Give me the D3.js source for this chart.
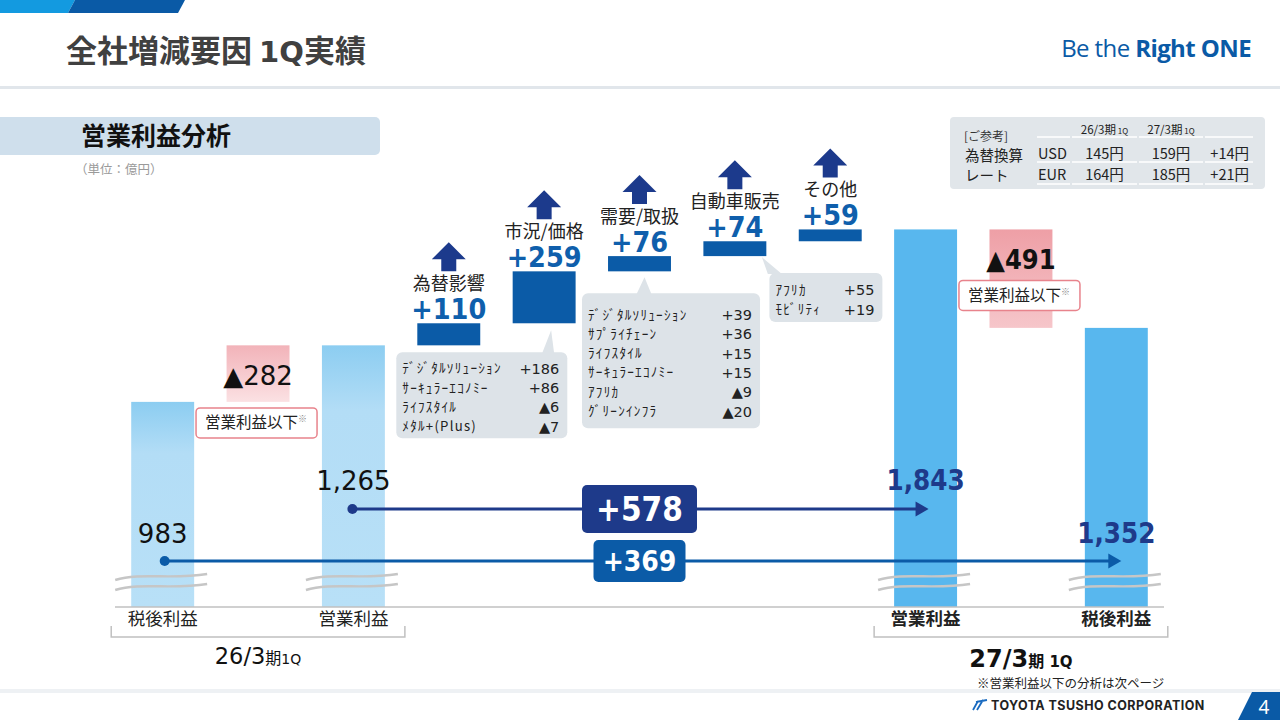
<!DOCTYPE html>
<html>
<head>
<meta charset="utf-8">
<script src="https://cdn.jsdelivr.net/npm/d3@7"></script>
<style>
  body { margin: 0; background: #fff; }
  svg { display: block; }
</style>
</head>
<body>
<svg id="canvas" width="1280" height="720"></svg>
<script>
// Chart values (億円)
let periods = ['26/3', '27/3'];
let startNames = ['税後利益', '営業利益'];
let startValues = [983, 1265];
let factorNames = ['為替影響', '市況/価格', '需要/取扱', '自動車販売', 'その他'];
let factorValues = [110, 259, 76, 74, 59];
let endNames = ['営業利益', '税後利益'];
let endValues = [1843, 1352];
let belowLabel = '営業利益以下';

// Breakdowns shown in the grey callouts
let marketItems = ['ﾃﾞｼﾞﾀﾙｿﾘｭｰｼｮﾝ', 'ｻｰｷｭﾗｰｴｺﾉﾐｰ', 'ﾗｲﾌｽﾀｲﾙ', 'ﾒﾀﾙ+(Plus)'];
let marketValues = [186, 86, -6, -7];
let demandItems = ['ﾃﾞｼﾞﾀﾙｿﾘｭｰｼｮﾝ', 'ｻﾌﾟﾗｲﾁｪｰﾝ', 'ﾗｲﾌｽﾀｲﾙ', 'ｻｰｷｭﾗｰｴｺﾉﾐｰ', 'ｱﾌﾘｶ', 'ｸﾞﾘｰﾝｲﾝﾌﾗ'];
let demandValues = [39, 36, 15, 15, -9, -20];
let autoItems = ['ｱﾌﾘｶ', 'ﾓﾋﾞﾘﾃｨ'];
let autoValues = [55, 19];

// Reference exchange rates
let fxHeaders = ['26/3期', '27/3期'];
let fxCurrencies = ['USD', 'EUR'];
let fxPrev = [145, 164];
let fxCurr = [159, 185];

// Fonts
let JP = '"Noto Sans CJK JP", sans-serif';
let NUM = '"DejaVu Sans", sans-serif';
let NUMB = '"DejaVu Sans Condensed", "DejaVu Sans", sans-serif';

let svg = d3.select('#canvas');
let fmtDiff = (v) => (v < 0 ? '▲' : '+') + Math.abs(v);
let fmtTotal = d3.format(',');

// Gradients
let defs = svg.append('defs');
let addGrad = (id, stops) => {
    let g = defs.append('linearGradient').attr('id', id)
        .attr('x1', 0).attr('y1', 0).attr('x2', 0).attr('y2', 1);
    stops.forEach((s) => g.append('stop').attr('offset', s[0]).attr('stop-color', s[1]));
};
addGrad('gradPrev', [[0, '#8ccdf1'], [0.25, '#b3ddf6'], [1, '#b8e0f7']]);
addGrad('gradPink1', [[0, '#f2b3b9'], [1, '#fbe1e3']]);
addGrad('gradPink2', [[0, '#ee9fa6'], [1, '#f6c6ca']]);

// ---------- Header ----------
svg.append('polygon').attr('points', '0,0 75,0 68,13 0,13').attr('fill', '#139ae0');
svg.append('polygon').attr('points', '75,0 185,0 178,13 68,13').attr('fill', '#0a5aa6');
let title = svg.append('text').attr('x', 66).attr('y', 62)
    .attr('font-weight', 700).attr('font-size', 31).attr('fill', '#404040');
title.append('tspan').attr('font-family', JP).text('全社増減要因 ');
title.append('tspan').attr('font-family', NUM).attr('font-size', 29).text('1Q');
title.append('tspan').attr('font-family', JP).text('実績');
svg.append('rect').attr('x', 0).attr('y', 86).attr('width', 1280).attr('height', 3).attr('fill', '#e1e6eb');

let brand = svg.append('text').attr('x', 1251).attr('y', 57).attr('text-anchor', 'end')
    .attr('font-family', '"Open Sans", sans-serif').attr('font-size', 24)
    .attr('letter-spacing', -0.6).attr('fill', '#0a5aa6');
brand.append('tspan').attr('font-weight', 400).text('Be the ');
brand.append('tspan').attr('font-weight', 700).text('Right ONE');

svg.append('rect').attr('x', -8).attr('y', 117).attr('width', 388).attr('height', 38).attr('rx', 5)
    .attr('fill', '#cfdfec');
svg.append('text').attr('x', 81).attr('y', 145)
    .attr('font-family', JP).attr('font-weight', 700).attr('font-size', 25)
    .attr('fill', '#111').text('営業利益分析');
svg.append('text').attr('x', 75).attr('y', 174)
    .attr('font-family', JP).attr('font-size', 12.5).attr('fill', '#9a9a9a').text('（単位：億円）');

// ---------- FX reference table ----------
let fx = svg.append('g');
fx.append('rect').attr('x', 950).attr('y', 117).attr('width', 315).attr('height', 72).attr('rx', 4)
    .attr('fill', '#e1e6ea');
fx.append('text').attr('x', 964).attr('y', 141).attr('font-family', JP).attr('font-size', 12)
    .attr('fill', '#333').text('[ご参考]');
fx.append('text').attr('x', 965).attr('y', 161).attr('font-family', JP).attr('font-size', 14.5)
    .attr('fill', '#222').text('為替換算');
fx.append('text').attr('x', 965).attr('y', 181).attr('font-family', JP).attr('font-size', 14.5)
    .attr('fill', '#222').text('レート');
let fxCols = [[1037, 1070], [1072, 1137], [1139, 1203], [1205, 1253]];
[137, 162, 184].forEach((ly) => {
    fxCols.forEach((c) => {
        fx.append('line').attr('x1', c[0]).attr('x2', c[1]).attr('y1', ly).attr('y2', ly)
            .attr('stroke', '#fff').attr('stroke-width', 1.5);
    });
});
fxHeaders.forEach((h, i) => {
    let c = fxCols[i + 1];
    let t = fx.append('text').attr('x', (c[0] + c[1]) / 2).attr('y', 134).attr('text-anchor', 'middle')
        .attr('font-family', JP).attr('font-size', 11.5).attr('fill', '#222');
    t.append('tspan').text(h);
    t.append('tspan').attr('font-size', 8).text(' 1Q');
});
fxCurrencies.forEach((cur, i) => {
    let ry = 158.5 + i * 21;
    fx.append('text').attr('x', 1038).attr('y', ry).attr('font-family', JP).attr('font-size', 14.5)
        .attr('fill', '#222').text(cur);
    fx.append('text').attr('x', (fxCols[1][0] + fxCols[1][1]) / 2).attr('y', ry).attr('text-anchor', 'middle')
        .attr('font-family', JP).attr('font-size', 14.5).attr('fill', '#222').text(fxPrev[i] + '円');
    fx.append('text').attr('x', (fxCols[2][0] + fxCols[2][1]) / 2).attr('y', ry).attr('text-anchor', 'middle')
        .attr('font-family', JP).attr('font-size', 14.5).attr('fill', '#222').text(fxCurr[i] + '円');
    fx.append('text').attr('x', 1249).attr('y', ry).attr('text-anchor', 'end')
        .attr('font-family', JP).attr('font-size', 14.5).attr('fill', '#222')
        .text(fmtDiff(fxCurr[i] - fxPrev[i]) + '円');
});

// ---------- Scales ----------
let keys = ['s0', 'd0', 's1', 'f0', 'f1', 'f2', 'f3', 'f4', 'e0', 'd1', 'e1'];
let x = d3.scaleBand().domain(keys).range([115, 1164]).paddingInner(0.34).paddingOuter(0.17);
let y = d3.scaleLinear().domain([0, 1900]).range([599, 218]);
let baseY = 607;
let bw = x.bandwidth();
let cx = (k) => x(k) + bw / 2;

let totals = [
    { key: 's0', name: startNames[0], value: startValues[0], side: 0 },
    { key: 's1', name: startNames[1], value: startValues[1], side: 0 },
    { key: 'e0', name: endNames[0], value: endValues[0], side: 1 },
    { key: 'e1', name: endNames[1], value: endValues[1], side: 1 }
];

let cum = startValues[1];
let steps = factorValues.map((v, i) => {
    let s = { key: 'f' + i, name: factorNames[i], value: v, from: cum, to: cum + v };
    cum += v;
    return s;
});

let gaps = [
    { key: 'd0', lo: startValues[0], hi: startValues[1], grad: 'gradPink1', bold: false },
    { key: 'd1', lo: endValues[1], hi: endValues[0], grad: 'gradPink2', bold: true }
];

let chart = svg.append('g');

// Total bars
chart.selectAll('rect.total')
    .data(totals)
    .enter()
    .append('rect')
    .attr('class', 'total')
    .attr('x', (d) => x(d.key))
    .attr('y', (d) => y(d.value))
    .attr('width', bw)
    .attr('height', (d) => baseY - y(d.value))
    .attr('fill', (d) => d.side === 0 ? 'url(#gradPrev)' : '#58b7ee');

// Pink "below operating profit" bars
chart.selectAll('rect.gap')
    .data(gaps)
    .enter()
    .append('rect')
    .attr('class', 'gap')
    .attr('x', (d) => x(d.key))
    .attr('y', (d) => y(d.hi))
    .attr('width', bw)
    .attr('height', (d) => y(d.lo) - y(d.hi))
    .attr('fill', (d) => 'url(#' + d.grad + ')');

// Factor bars
chart.selectAll('rect.step')
    .data(steps)
    .enter()
    .append('rect')
    .attr('class', 'step')
    .attr('x', (d) => x(d.key))
    .attr('y', (d) => y(d.to))
    .attr('width', bw)
    .attr('height', (d) => y(d.from) - y(d.to))
    .attr('fill', '#0b5ba7');

// Axis break marks (two grey waves across each total bar)
let wave = (x0, x1, yc) => {
    let w = x1 - x0;
    return 'M' + x0 + ',' + (yc + 3) + ' C' + (x0 + w * 0.28) + ',' + (yc - 5) + ' ' +
        (x0 + w * 0.6) + ',' + (yc + 3) + ' ' + x1 + ',' + (yc - 3);
};
totals.forEach((d) => {
    let x0 = x(d.key) - 16;
    let x1 = x(d.key) + bw + 13;
    [577, 587].forEach((yc) => {
        chart.append('path').attr('d', wave(x0, x1, yc)).attr('fill', 'none')
            .attr('stroke', '#c6c6c6').attr('stroke-width', 2.4);
    });
});

// Baseline
chart.append('line').attr('x1', 115).attr('x2', 1164).attr('y1', baseY).attr('y2', baseY)
    .attr('stroke', '#c0c0c0').attr('stroke-width', 1.5);

// Category labels
chart.selectAll('text.cat')
    .data(totals)
    .enter()
    .append('text')
    .attr('class', 'cat')
    .attr('x', (d) => cx(d.key))
    .attr('y', 625)
    .attr('text-anchor', 'middle')
    .attr('font-family', JP)
    .attr('font-size', 17.5)
    .attr('font-weight', (d) => d.side === 1 ? 700 : 400)
    .attr('fill', '#222')
    .text((d) => d.name);

// Period brackets
[['s0', 's1'], ['e0', 'e1']].forEach((pair, i) => {
    let bl = x(pair[0]) - 20;
    let br = x(pair[1]) + bw + 20;
    chart.append('path')
        .attr('d', 'M' + bl + ',626 V637 H' + br + ' V626')
        .attr('fill', 'none').attr('stroke', '#c0c0c0').attr('stroke-width', 1.5);
    let t = chart.append('text').attr('x', (bl + br) / 2).attr('y', i === 0 ? 664 : 667)
        .attr('text-anchor', 'middle').attr('fill', '#111')
        .attr('font-weight', i === 0 ? 400 : 700);
    t.append('tspan').attr('font-family', NUM).attr('font-size', i === 0 ? 22.5 : 24).text(periods[i]);
    t.append('tspan').attr('font-family', JP).attr('font-size', 16).text('期');
    t.append('tspan').attr('font-family', NUM).attr('font-size', i === 0 ? 14 : 15).text(i === 0 ? '1Q' : ' 1Q');
});

// Factor arrows, names and values
let arrowPath = (c, yt, yb) => {
    let hw = 17, sw = 7.5, hh = 17;
    return 'M' + (c - sw) + ',' + yb + ' L' + (c - sw) + ',' + (yt + hh) + ' L' + (c - hw) + ',' + (yt + hh) +
        ' L' + c + ',' + yt + ' L' + (c + hw) + ',' + (yt + hh) + ' L' + (c + sw) + ',' + (yt + hh) +
        ' L' + (c + sw) + ',' + yb + ' Z';
};
steps.forEach((d) => {
    let top = y(d.to);
    chart.append('path').attr('d', arrowPath(cx(d.key), top - 81, top - 52)).attr('fill', '#1c3a8c');
    chart.append('text').attr('x', cx(d.key)).attr('y', top - 33).attr('text-anchor', 'middle')
        .attr('font-family', JP).attr('font-size', 18).attr('fill', '#222').text(d.name);
    chart.append('text').attr('x', cx(d.key)).attr('y', top - 4).attr('text-anchor', 'middle')
        .attr('font-family', NUMB).attr('font-weight', 700).attr('font-size', 28.5)
        .attr('fill', '#0f5fac').text(fmtDiff(d.value));
});

// Grey breakdown callouts
let callouts = [
    { step: steps[1], items: marketItems, values: marketValues, left: x('f0') - 21, width: 171, height: 86,
        topOff: 29, tipDx: 7, tipDy: 7, base: [-9, 3] },
    { step: steps[2], items: demandItems, values: demandValues, left: x('f2') - 26, width: 178, height: 135,
        topOff: 22, tipDx: 5, tipDy: 6, base: [-8, 7] },
    { step: steps[3], items: autoItems, values: autoValues, left: x('f3') + 66, width: 113, height: 49,
        topOff: 17, tipDx: 27, tipDy: 1, base: [6, 20] }
];
callouts.forEach((c) => {
    let bottom = y(c.step.from);
    let top = bottom + c.topOff;
    let tipX = cx(c.step.key) + c.tipDx;
    let g = chart.append('g');
    g.append('rect').attr('x', c.left).attr('y', top).attr('width', c.width).attr('height', c.height)
        .attr('rx', 6).attr('fill', '#dde3e8');
    g.append('polygon')
        .attr('points', (tipX + c.base[0]) + ',' + (top + 1) + ' ' + tipX + ',' + (bottom + c.tipDy) + ' ' +
            (tipX + c.base[1]) + ',' + (top + 1))
        .attr('fill', '#dde3e8');
    let rowH = 19.3;
    let firstY = top + c.height / 2 + 2 - (c.items.length - 1) * rowH / 2;
    c.items.forEach((name, i) => {
        let ry = firstY + i * rowH;
        g.append('text').attr('x', c.left + 6).attr('y', ry + 5)
            .attr('font-family', JP).attr('font-size', 13.2).attr('letter-spacing', 1.25)
            .attr('fill', '#222').text(name);
        g.append('text').attr('x', c.left + c.width - 8).attr('y', ry + 5.5).attr('text-anchor', 'end')
            .attr('font-family', NUM).attr('font-size', 14.5).attr('fill', '#222').text(fmtDiff(c.values[i]));
    });
});

// Pink gap annotations
gaps.forEach((d, i) => {
    let c = cx(d.key);
    chart.append('text').attr('x', c).attr('y', y(d.hi) + 40).attr('text-anchor', 'middle')
        .attr('fill', '#111').attr('font-size', d.bold ? 27 : 26)
        .attr('font-family', d.bold ? NUMB : NUM).attr('font-weight', d.bold ? 700 : 400)
        .text(fmtDiff(d.lo - d.hi));
    let boxCy = i === 0 ? y(d.lo) + 21 : y(d.hi) + 66;
    chart.append('rect').attr('x', c - 62).attr('y', boxCy - 15).attr('width', 121).attr('height', 30)
        .attr('rx', 4).attr('fill', '#fff').attr('stroke', '#e8838c').attr('stroke-width', 1.5);
    let lt = chart.append('text').attr('x', c - 2).attr('y', boxCy + 5.5).attr('text-anchor', 'middle')
        .attr('font-family', JP).attr('font-size', 15.5).attr('fill', '#222');
    lt.append('tspan').text(belowLabel);
    lt.append('tspan').attr('font-size', 9).attr('dy', -6).attr('fill', '#888').text('※');
});

// Change lines between totals
let opY = 509, netY = 561;
let links = [
    { from: 's1', to: 'e0', ly: opY, color: '#1e3a8a', diff: endValues[0] - startValues[1],
        boxW: 115, boxH: 48, fs: 33, startDx: -1, endDx: 3 },
    { from: 's0', to: 'e1', ly: netY, color: '#0b5ba7', diff: endValues[1] - startValues[0],
        boxW: 92, boxH: 42, fs: 28, startDx: 2, endDx: 5 }
];
links.forEach((l) => {
    let x0 = cx(l.from) + l.startDx;
    let x1 = cx(l.to) + l.endDx;
    chart.append('line').attr('x1', x0).attr('x2', x1 - 10).attr('y1', l.ly).attr('y2', l.ly)
        .attr('stroke', l.color).attr('stroke-width', 3);
    chart.append('circle').attr('cx', x0).attr('cy', l.ly).attr('r', 5).attr('fill', l.color);
    chart.append('polygon')
        .attr('points', x1 + ',' + l.ly + ' ' + (x1 - 13) + ',' + (l.ly - 7.5) + ' ' + (x1 - 13) + ',' + (l.ly + 7.5))
        .attr('fill', l.color);
    let bc = cx('f2');
    chart.append('rect').attr('x', bc - l.boxW / 2).attr('y', l.ly - l.boxH / 2)
        .attr('width', l.boxW).attr('height', l.boxH).attr('rx', 5).attr('fill', l.color);
    chart.append('text').attr('x', bc).attr('y', l.ly + l.fs * 0.36).attr('text-anchor', 'middle')
        .attr('font-family', NUMB).attr('font-weight', 700).attr('font-size', l.fs)
        .attr('fill', '#fff').text(fmtDiff(l.diff));
});

// Total value labels
let labelY = { s0: netY - 18, s1: opY - 19, e0: opY - 19, e1: netY - 18 };
chart.selectAll('text.total')
    .data(totals)
    .enter()
    .append('text')
    .attr('class', 'total')
    .attr('x', (d) => cx(d.key))
    .attr('y', (d) => labelY[d.key])
    .attr('text-anchor', 'middle')
    .attr('font-family', (d) => d.side === 1 ? NUMB : NUM)
    .attr('font-weight', (d) => d.side === 1 ? 700 : 400)
    .attr('font-size', (d) => d.side === 1 ? 27.5 : 26)
    .attr('fill', (d) => d.side === 1 ? '#1e3a8a' : '#111')
    .text((d) => fmtTotal(d.value));

// ---------- Footer ----------
svg.append('text').attr('x', 977).attr('y', 688).attr('font-family', JP).attr('font-size', 12.5)
    .attr('fill', '#222').text('※営業利益以下の分析は次ページ');
svg.append('rect').attr('x', 0).attr('y', 689).attr('width', 1280).attr('height', 4).attr('fill', '#eef1f4');
svg.append('path').attr('d', 'M973,710 L978,701 M977,710 L983,700 M976,702 L987,700')
    .attr('stroke', '#1a6bc0').attr('stroke-width', 1.8).attr('fill', 'none');
svg.append('text').attr('x', 991).attr('y', 710).attr('font-family', 'Inter, sans-serif')
    .attr('font-weight', 700).attr('font-size', 12.5).attr('letter-spacing', 0.45)
    .attr('fill', '#222').text('TOYOTA TSUSHO CORPORATION');
svg.append('polygon').attr('points', '1252,692 1280,692 1280,720 1238,720').attr('fill', '#0a5aa6');
svg.append('text').attr('x', 1264).attr('y', 714).attr('text-anchor', 'middle')
    .attr('font-family', '"Noto Sans", sans-serif').attr('font-size', 19).attr('fill', '#fff').text('4');
</script>
</body>
</html>
